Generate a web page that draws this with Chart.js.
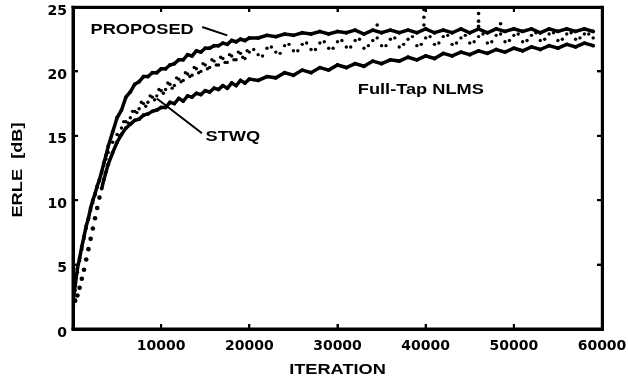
<!DOCTYPE html>
<html><head><meta charset="utf-8">
<script src="https://cdn.jsdelivr.net/npm/chart.js@4/dist/chart.umd.min.js"></script>
<style>
html,body{margin:0;padding:0;background:#fff}
#wrap{position:relative;width:628px;height:383px}
canvas{display:block}
.frame{position:absolute;box-sizing:border-box;border:3px solid #000;pointer-events:none}
.tk{position:absolute;background:#000;pointer-events:none}
</style>
</head><body>
<div id="wrap"><canvas id="c" width="628" height="383"></canvas></div>
<script>
// ---- data ----
const iterations = [
  0,250,500,750,1000,1250,1500,1750,2000,2250,2500,2750,3000,3250,3500,3750,4000,
  4500,5000,5500,6000,6500,7000,7500,8000,8500,9000,9500,10000,
  10500,11000,11500,12000,12500,13000,13500,14000,14500,15000,
  15500,16000,16500,17000,17500,18000,18500,19000,19500,20000,
  21000,22000,23000,24000,25000,26000,27000,28000,29000,30000,
  31000,32000,33000,34000,35000,36000,37000,38000,39000,40000,
  41000,42000,43000,44000,45000,46000,47000,48000,49000,50000,
  51000,52000,53000,54000,55000,56000,57000,58000,59000
];
const proposedERLE = [
  2.1,3.4,4.7,5.5,6.4,7.2,8.0,8.6,9.4,10.0,10.5,11.1,11.6,12.2,12.9,13.5,14.2,
  15.3,16.4,17.0,18.0,18.4,19.0,19.2,19.6,19.6,19.9,19.9,20.2,
  20.2,20.5,20.6,20.9,20.9,21.3,21.2,21.6,21.5,21.8,
  21.8,22.0,22.0,22.2,22.1,22.4,22.3,22.5,22.4,22.6,
  22.6,22.8,22.7,22.9,22.8,23.0,22.9,23.1,22.9,23.1,
  23.0,23.2,22.9,23.2,23.0,23.2,23.0,23.2,23.0,23.3,
  23.0,23.2,23.0,23.3,23.0,23.3,23.0,23.3,23.1,23.3,
  23.1,23.3,23.0,23.3,23.1,23.3,23.1,23.3,23.1
];
const stwqERLE = [
  2.0,3.0,4.4,5.3,6.2,7.0,7.8,8.5,9.2,9.8,10.4,11.0,11.5,12.1,12.7,13.2,13.7,
  14.5,15.1,15.6,16.1,16.4,16.9,17.1,17.5,17.6,18.0,18.1,18.5,
  18.6,19.0,18.9,19.4,19.3,19.8,19.7,20.2,20.0,20.5,
  20.3,20.8,20.5,21.0,20.7,21.2,20.9,21.4,21.0,21.5,
  21.3,21.8,21.5,22.0,21.6,22.1,21.7,22.2,21.8,22.3,
  21.9,22.4,21.8,22.4,22.0,22.5,21.9,22.5,22.0,22.6,
  22.1,22.7,22.1,22.6,22.2,22.7,22.2,22.8,22.3,22.8,
  22.3,22.8,22.4,22.9,22.4,22.9,22.5,22.9,22.6
];
const stwqIterationsB = [
  5250,5750,6250,6750,7250,7750,8250,8750,9250,9750,
  10250,10750,11250,11750,12250,12750,13250,13750,14250,14750,
  15250,15750,16250,16750,17250,17750,18250,18750,19250,19750,
  20500,21500,22500,23500,24500,25500,26500,27500,28500,29500,
  30500,31500,32500,33500,34500,35500,36500,37500,38500,39500,
  40500,41500,42500,43500,44500,45500,46500,47500,48500,49500,
  50500,51500,52500,53500,54500,55500,56500,57500,58500
];
const stwqERLE_B = [
  15.0,16.1,16.0,16.9,16.8,17.6,17.3,18.1,17.8,18.6,
  18.3,19.1,18.7,19.5,19.2,19.9,19.6,20.3,19.9,20.6,
  20.2,20.9,20.5,21.1,20.7,21.3,20.9,21.5,21.1,21.6,
  21.7,21.2,21.9,21.4,22.1,21.6,22.2,21.7,22.3,21.8,
  22.4,21.9,22.5,22.0,22.6,22.0,22.6,22.1,22.7,22.1,
  22.7,22.2,22.8,22.2,22.8,22.3,22.9,22.3,22.9,22.4,
  22.9,22.4,23.0,22.5,23.0,22.5,23.0,22.6,22.9
];
const nlmsERLE = [
  1.8,2.2,2.6,3.2,3.9,4.6,5.4,6.2,7.0,7.8,8.6,9.4,10.2,10.9,11.6,12.2,12.8,
  13.7,14.5,15.1,15.6,15.9,16.2,16.3,16.6,16.7,16.9,17.0,17.2,
  17.2,17.6,17.5,17.9,17.7,18.1,18.0,18.3,18.2,18.5,
  18.4,18.7,18.6,18.9,18.7,19.1,18.9,19.3,19.1,19.4,
  19.3,19.6,19.5,19.9,19.7,20.1,19.9,20.3,20.1,20.5,
  20.3,20.6,20.4,20.8,20.6,20.9,20.8,21.1,20.9,21.2,
  21.0,21.4,21.2,21.5,21.3,21.6,21.4,21.7,21.5,21.8,
  21.6,21.9,21.7,22.0,21.8,22.1,21.9,22.2,22.0
];
const stwqOutlierIter = [34500, 39800, 39800, 39800, 46000, 46000, 46000, 48500];
const stwqOutlierERLE = [23.6, 24.8, 24.2, 23.6, 24.5, 23.9, 23.5, 23.7];
const xTickValues = [0, 10000, 20000, 30000, 40000, 50000, 60000];
const yTickValues = [0, 5, 10, 15, 20, 25];
const seriesNames = ['PROPOSED', 'STWQ', 'Full-Tap NLMS'];
const NLMS_DOTTED_UNTIL = 13;   // early NLMS samples are drawn as separate dots

// ---- helpers ----
const toXY = (xs, ys) => xs.map((x, i) => ({x: x, y: ys[i]}));
const INK = '#000';
const TEXT_FONT = 'bold 14px "Liberation Sans", Arial, sans-serif';
const STRETCH = 1.3;
const X_MIN = 0, X_MAX = 60000, Y_MIN = 0, Y_MAX = 25;

function stretchedText(ctx, text, cx, cy, rot) {
  ctx.save();
  ctx.translate(cx, cy);
  if (rot) ctx.rotate(rot);
  ctx.scale(STRETCH, 1);
  ctx.font = TEXT_FONT;
  ctx.fillStyle = INK;
  ctx.textAlign = 'center';
  ctx.textBaseline = 'middle';
  ctx.fillText(text, 0, 0);
  ctx.restore();
}

const decorPlugin = {
  id: 'decor',
  beforeDraw(chart) {
    const c = chart.ctx;
    c.save(); c.fillStyle = '#fff'; c.fillRect(0, 0, chart.width, chart.height); c.restore();
  },
  afterDraw(chart) {
    const c = chart.ctx;
    const xs = chart.scales.x, ys = chart.scales.y;
    const L = xs.getPixelForValue(X_MIN), R = xs.getPixelForValue(X_MAX);
    const T = ys.getPixelForValue(Y_MAX), B = ys.getPixelForValue(Y_MIN);
    c.save();
    c.fillStyle = INK;
    c.fillRect(L - 1.5, T - 1.2, 3, B - T + 2.7);
    c.fillRect(L - 1.5, B - 1.5, R - L + 3, 3);
    c.fillRect(L - 1.5, T - 1.2, R - L + 2.7, 2.4);
    c.fillRect(R - 1.2, T - 1.2, 2.4, B - T + 2.7);
    xTickValues.forEach(v => {
      if (v > X_MIN && v < X_MAX) {
        const px = xs.getPixelForValue(v);
        c.fillRect(px - 1, B - 5, 2, 4);
        c.fillRect(px - 1, T + 1, 2, 4);
      }
    });
    yTickValues.forEach(v => {
      if (v > Y_MIN && v < Y_MAX) {
        const py = ys.getPixelForValue(v);
        c.fillRect(L + 1, py - 1, 4, 2);
        c.fillRect(R - 5, py - 1, 4, 2);
      }
    });
    c.strokeStyle = INK;
    c.lineWidth = 2;
    c.beginPath();
    c.moveTo(xs.getPixelForValue(14660), ys.getPixelForValue(23.45));
    c.lineTo(xs.getPixelForValue(17500), ys.getPixelForValue(22.8));
    c.moveTo(xs.getPixelForValue(9500), ys.getPixelForValue(17.9));
    c.lineTo(xs.getPixelForValue(14630), ys.getPixelForValue(15.2));
    c.stroke();
    c.restore();
    stretchedText(c, seriesNames[0], xs.getPixelForValue(7840), ys.getPixelForValue(23.2));
    stretchedText(c, seriesNames[1], xs.getPixelForValue(18130), ys.getPixelForValue(14.9));
    stretchedText(c, seriesNames[2], xs.getPixelForValue(39450), ys.getPixelForValue(18.55));
    stretchedText(c, 'ITERATION', (L + R) / 2, 370);
    stretchedText(c, 'ERLE  [dB]', 18, (T + B) / 2 + 2, -Math.PI / 2);
  }
};

const dot = { pointBackgroundColor: INK, pointBorderWidth: 0, pointBorderColor: INK };

const chart = new Chart(document.getElementById('c'), {
  type: 'scatter',
  data: {
    datasets: [
      Object.assign({
        label: seriesNames[0],
        data: toXY(iterations, proposedERLE),
        showLine: true, borderColor: INK, borderWidth: 3.5,
        pointRadius: 1.9, tension: 0
      }, dot),
      Object.assign({
        label: seriesNames[2],
        data: toXY(iterations.slice(NLMS_DOTTED_UNTIL), nlmsERLE.slice(NLMS_DOTTED_UNTIL)),
        showLine: true, borderColor: INK, borderWidth: 3.5,
        pointRadius: 1.9, tension: 0
      }, dot),
      Object.assign({
        label: seriesNames[2] + ' (start)',
        data: toXY(iterations.slice(0, NLMS_DOTTED_UNTIL), nlmsERLE.slice(0, NLMS_DOTTED_UNTIL)),
        showLine: false, pointRadius: 2.3
      }, dot),
      Object.assign({
        label: seriesNames[1],
        data: toXY(iterations, stwqERLE),
        showLine: false, pointRadius: 1.7
      }, dot),
      Object.assign({
        label: seriesNames[1] + ' (b)',
        data: toXY(stwqIterationsB, stwqERLE_B),
        showLine: false, pointRadius: 1.7
      }, dot),
      Object.assign({
        label: seriesNames[1] + ' (spikes)',
        data: toXY(stwqOutlierIter, stwqOutlierERLE),
        showLine: false, pointRadius: 1.8
      }, dot)
    ]
  },
  options: {
    responsive: false,
    animation: false,
    layout: { padding: { left: 0, right: 26, top: 7, bottom: 0 } },
    plugins: { legend: { display: false }, tooltip: { enabled: false } },
    scales: {
      x: {
        type: 'linear', min: X_MIN, max: X_MAX,
        afterFit: s => { s.height = 54; s.paddingLeft = 0; s.paddingRight = 0; },
        afterBuildTicks: s => { s.ticks = xTickValues.map(v => ({value: v})); },
        grid: { display: false, drawTicks: false },
        border: { display: true, width: 3, color: INK },
        ticks: {
          padding: 9, color: INK, maxRotation: 0, autoSkip: false,
          font: { family: 'DejaVu Sans', size: 14, weight: 'bold' },
          callback: v => v === 0 ? '' : String(v)
        }
      },
      y: {
        type: 'linear', min: Y_MIN, max: Y_MAX,
        afterFit: s => { s.width = 73; s.paddingTop = 0; s.paddingBottom = 0; },
        afterBuildTicks: s => { s.ticks = yTickValues.map(v => ({value: v})); },
        grid: { display: false, drawTicks: false },
        border: { display: true, width: 3, color: INK },
        ticks: {
          padding: 6, color: INK, labelOffset: 4,
          font: { family: 'DejaVu Sans', size: 14, weight: 'bold' },
          callback: v => String(v)
        }
      }
    }
  },
  plugins: [decorPlugin]
});

// frame + inward ticks as an overlay positioned from the chart's own scales
(function overlay() {
  const wrap = document.getElementById('wrap');
  const xs = chart.scales.x, ys = chart.scales.y;
  const L = xs.getPixelForValue(X_MIN), R = xs.getPixelForValue(X_MAX);
  const T = ys.getPixelForValue(Y_MAX), B = ys.getPixelForValue(Y_MIN);
  const f = document.createElement('div');
  f.className = 'frame';
  f.style.left = (L - 1.5) + 'px'; f.style.top = (T - 1.5) + 'px';
  f.style.width = (R - L + 3) + 'px'; f.style.height = (B - T + 3) + 'px';
  wrap.appendChild(f);
  const tick = (x, y, w, h) => {
    const d = document.createElement('div');
    d.className = 'tk';
    d.style.left = x + 'px'; d.style.top = y + 'px';
    d.style.width = w + 'px'; d.style.height = h + 'px';
    wrap.appendChild(d);
  };
  xTickValues.forEach(v => {
    if (v > X_MIN && v < X_MAX) {
      const px = xs.getPixelForValue(v);
      tick(px - 1, B - 5, 2, 4);
      tick(px - 1, T + 1, 2, 4);
    }
  });
  yTickValues.forEach(v => {
    if (v > Y_MIN && v < Y_MAX) {
      const py = ys.getPixelForValue(v);
      tick(L + 1, py - 1, 4, 2);
      tick(R - 5, py - 1, 4, 2);
    }
  });
})();
</script>
</body></html>
